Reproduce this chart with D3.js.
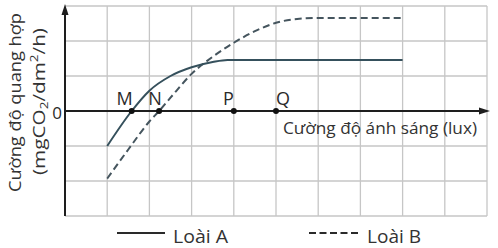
<!DOCTYPE html>
<html><head><meta charset="utf-8">
<script src="https://cdn.jsdelivr.net/npm/d3@7"></script>
<style>html,body{margin:0;padding:0;background:#fff;}svg{display:block;font-family:"Open Sans",sans-serif;}</style>
</head><body>
<svg id="c" width="498" height="248"></svg>
<script>
// ---- data ----
const xTicks = [0,1,2,3,4,5,6,7,8,9,10];
const yTicks = [-3,-2,-1,0,1,2,3];
const zeroLabel = ["0"];
const pointNames = ["M","N","P","Q"];
const pointX = [1.58, 2.23, 4, 5];
const loaiA_x = [1, 1.58, 2, 2.5, 3, 3.5, 3.85, 5, 8];
const loaiA_y = [-1, 0, 0.58, 1.0, 1.25, 1.4, 1.46, 1.46, 1.46];
const loaiB_x = [1, 1.5, 2, 2.23, 2.5, 3, 3.5, 4, 4.5, 5, 5.5, 6, 8];
const loaiB_y = [-1.93, -1.1, -0.3, 0, 0.38, 1.06, 1.55, 1.95, 2.28, 2.52, 2.63, 2.66, 2.66];
const seriesNames = ["Loài A", "Loài B"];
const xTitle = "Cường độ ánh sáng (lux)";
const yTitle1 = "Cường độ quang hợp";

// ---- drawing ----
const svg = d3.select("#c");
const x = d3.scaleLinear().domain([0,10]).range([65,487]);
const y = d3.scaleLinear().domain([-3,3]).range([216,6]);
const grid = "#c6c6c6", ink = "#333";

function fit(sel, w){ const n=sel.node(); const cur=n.getComputedTextLength(); sel.attr("textLength", w).attr("lengthAdjust","spacingAndGlyphs"); }

// grid
svg.append("g").selectAll("line").data(xTicks.filter(d=>d>0)).join("line")
  .attr("x1",d=>x(d)).attr("x2",d=>x(d)).attr("y1",y(3)).attr("y2",y(-3))
  .attr("stroke",grid).attr("stroke-width",1.3);
svg.append("g").selectAll("line").data(yTicks.filter(d=>d!==0)).join("line")
  .attr("x1",x(0)).attr("x2",x(10)).attr("y1",d=>y(d)).attr("y2",d=>y(d))
  .attr("stroke",grid).attr("stroke-width",1.3);

// axes
const axisCol = "#1e1e1e";
svg.append("line").attr("x1",x(0)).attr("x2",x(0)).attr("y1",y(-3)).attr("y2",12)
  .attr("stroke",axisCol).attr("stroke-width",2);
svg.append("path").attr("d",`M${x(0)},4 L${x(0)-3.5},15 L${x(0)+3.5},15 Z`).attr("fill",axisCol);
svg.append("line").attr("x1",x(0)).attr("x2",482).attr("y1",y(0)).attr("y2",y(0))
  .attr("stroke",axisCol).attr("stroke-width",2);
svg.append("path").attr("d",`M490,${y(0)} L479,${y(0)-3.5} L479,${y(0)+3.5} Z`).attr("fill",axisCol);

// curves
const line = d3.line().x(d=>x(d[0])).y(d=>y(d[1])).curve(d3.curveMonotoneX);
const dataA = loaiA_x.map((v,i)=>[v,loaiA_y[i]]);
const dataB = loaiB_x.map((v,i)=>[v,loaiB_y[i]]);
svg.append("path").attr("d",line(dataB)).attr("fill","none").attr("stroke","#45555e")
  .attr("stroke-width",2).attr("stroke-dasharray","7,4");
svg.append("path").attr("d",line(dataA)).attr("fill","none").attr("stroke","#35505c")
  .attr("stroke-width",2);

// points
svg.append("g").selectAll("circle").data(pointX).join("circle")
  .attr("cx",d=>x(d)).attr("cy",y(0)).attr("r",3).attr("fill","#111");
const labelDx = [-7,-4,-5.5,7];
svg.append("g").selectAll("text").data(pointNames).join("text")
  .attr("x",(d,i)=>x(pointX[i])+labelDx[i]).attr("y",105)
  .attr("text-anchor","middle").attr("font-size",18).attr("fill","#2a2a2a").text(d=>d);

// zero label
svg.append("text").attr("x",57).attr("y",119).attr("text-anchor","middle")
  .attr("font-size",17).attr("fill","#2a2a2a").text(zeroLabel[0]);

// x title
const xt = svg.append("text").attr("x",283).attr("y",134).attr("font-size",17).attr("fill",ink).text(xTitle);
fit(xt,194);

// y title
const yt1 = svg.append("text").attr("transform","translate(21,192) rotate(-90)")
  .attr("font-size",17).attr("fill",ink).text(yTitle1);
fit(yt1,179);
const yt2 = svg.append("text").attr("transform","translate(45,175) rotate(-90)")
  .attr("font-size",17).attr("fill",ink);
yt2.append("tspan").text("(mgCO");
yt2.append("tspan").attr("font-size",11).attr("dy",3).text("2");
yt2.append("tspan").attr("dy",-3).text("/dm");
yt2.append("tspan").attr("font-size",11).attr("dy",-7).text("2");
yt2.append("tspan").attr("dy",7).text("/h)");
fit(yt2,147);

// legend
svg.append("line").attr("x1",117).attr("x2",165).attr("y1",233).attr("y2",233)
  .attr("stroke","#2a2a2a").attr("stroke-width",2);
svg.append("line").attr("x1",309).attr("x2",358).attr("y1",233).attr("y2",233)
  .attr("stroke","#2a2a2a").attr("stroke-width",2).attr("stroke-dasharray","7,3.5");
const la = svg.append("text").attr("x",173).attr("y",243).attr("font-size",18).attr("fill",ink).text(seriesNames[0]);
fit(la,55);
const lb = svg.append("text").attr("x",367).attr("y",243).attr("font-size",18).attr("fill",ink).text(seriesNames[1]);
fit(lb,54);
</script>
</body></html>
